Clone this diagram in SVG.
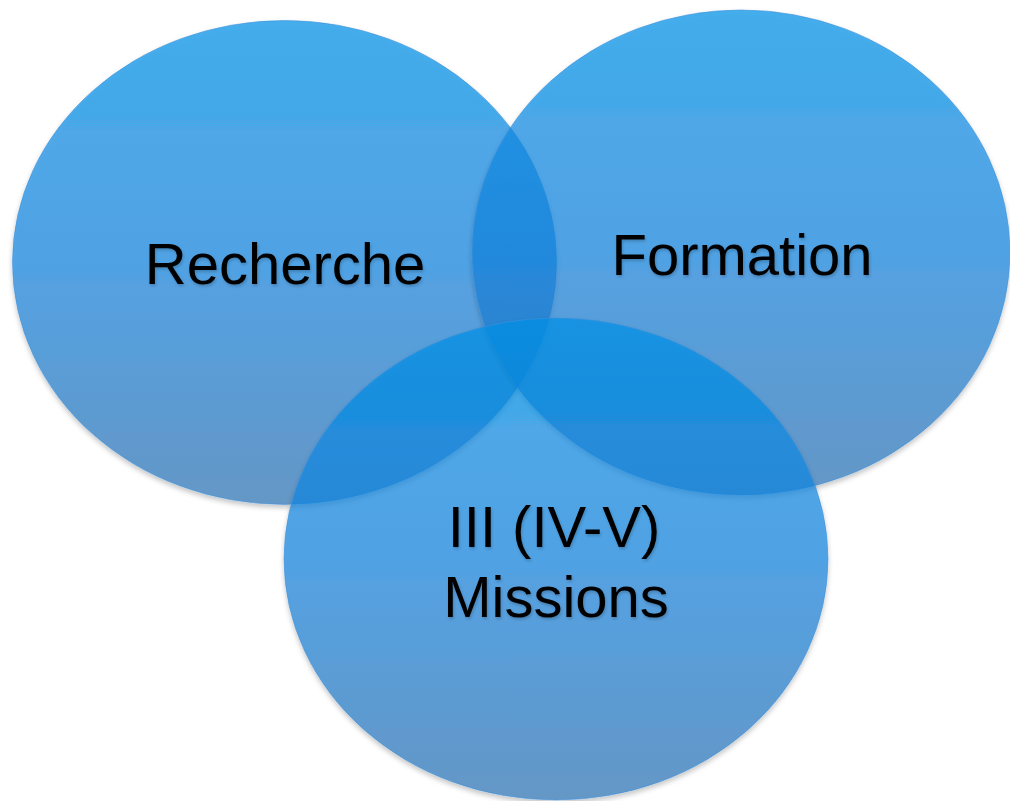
<svg xmlns="http://www.w3.org/2000/svg" width="1010" height="801" viewBox="0 0 1010 801">
<defs>
<linearGradient id="g" x1="0" y1="0" x2="0" y2="1">
<stop offset="0" stop-color="#0090e6"/>
<stop offset="0.5" stop-color="#1582dc"/>
<stop offset="1" stop-color="#2e72b3"/>
</linearGradient>
<filter id="sh" x="-10%" y="-10%" width="120%" height="120%">
<feGaussianBlur in="SourceAlpha" stdDeviation="2.5" result="b"/>
<feOffset in="b" dx="0" dy="3" result="o"/>
<feComposite in="o" in2="SourceAlpha" operator="out" result="oo"/>
<feFlood flood-color="#000" flood-opacity="0.3"/>
<feComposite in2="oo" operator="in" result="s"/>
<feMerge><feMergeNode in="s"/><feMergeNode in="SourceGraphic"/></feMerge>
</filter>
<filter id="ts" x="-10%" y="-20%" width="120%" height="150%">
<feGaussianBlur in="SourceAlpha" stdDeviation="1.5"/>
<feOffset dx="1" dy="2" result="o"/>
<feFlood flood-color="#000" flood-opacity="0.2"/>
<feComposite in2="o" operator="in" result="s"/>
<feMerge><feMergeNode in="s"/><feMergeNode in="SourceGraphic"/></feMerge>
</filter>
</defs>
<style>
.c{fill:url(#g);fill-opacity:0.72;stroke:#3d8fd8;stroke-opacity:0.6;stroke-width:1;filter:url(#sh)}
.t{font-family:"Liberation Sans",Arial,sans-serif;font-size:58px;fill:#000;text-anchor:middle;filter:url(#ts)}
</style>
<g id="recherche">
<ellipse class="c" cx="284.5" cy="262.5" rx="272" ry="242"/>
</g>
<g id="formation">
<ellipse class="c" cx="741" cy="252.5" rx="269" ry="242.5"/>
</g>
<g id="missions">
<ellipse class="c" cx="556" cy="559" rx="272" ry="241"/>
</g>
<g id="labels">
<text class="t" x="285" y="284">Recherche</text>
<text class="t" x="742" y="275">Formation</text>
<text class="t" x="554" y="547">III (IV-V)</text>
<text class="t" x="556" y="617">Missions</text>
</g>
<g id="connectors"/>
</svg>
